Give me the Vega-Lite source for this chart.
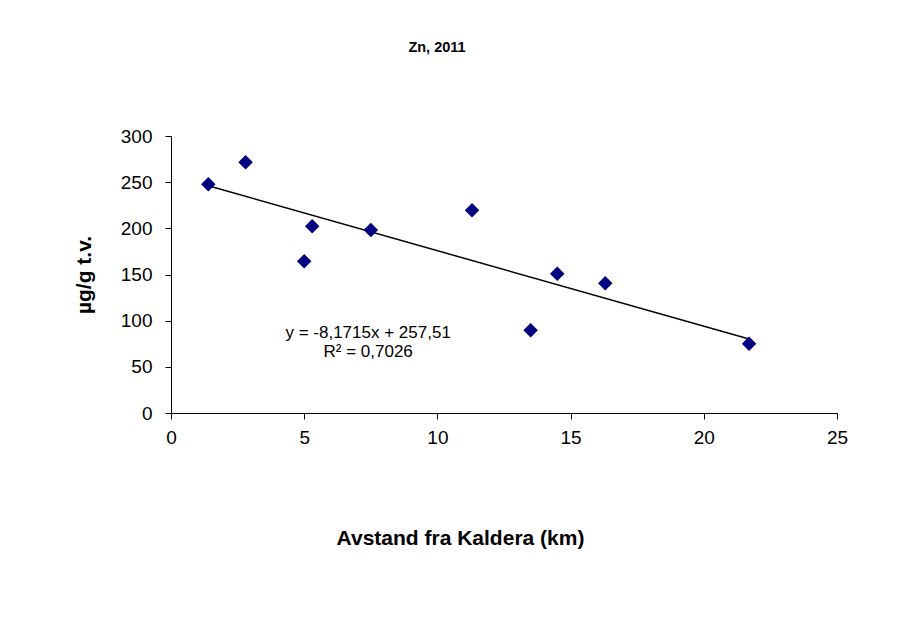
{
  "$schema": "https://vega.github.io/schema/vega-lite/v6.json",
  "width": 666,
  "height": 277,
  "autosize": {"type": "none"},
  "padding": {"left": 171, "top": 136, "right": 67, "bottom": 220},
  "background": "white",
  "config": {
    "view": {"stroke": null},
    "font": "Liberation Sans",
    "axis": {"grid": false, "domainColor": "black", "tickColor": "black", "tickSize": 6, "labelFont": "Liberation Sans", "labelFontSize": 19, "labelColor": "black", "titleFont": "Liberation Sans", "titleFontSize": 21, "titleFontWeight": "bold", "titleColor": "black", "labelFlush": false}
  },
  "title": {"text": "Zn, 2011", "font": "Liberation Sans", "fontSize": 14.5, "fontWeight": "bold", "color": "black", "anchor": "middle", "dx": -67, "offset": 72},
  "datasets": {
    "pts": [
      {"x": 1.4, "y": 247.7},
      {"x": 2.8, "y": 271.5},
      {"x": 5.0, "y": 164.3},
      {"x": 5.3, "y": 202.2},
      {"x": 7.5, "y": 198.2},
      {"x": 11.3, "y": 219.5},
      {"x": 13.5, "y": 89.6},
      {"x": 14.5, "y": 150.9},
      {"x": 16.3, "y": 140.5},
      {"x": 21.7, "y": 75.1}
    ],
    "trend": [
      {"x": 1.4, "y": 246.07},
      {"x": 21.7, "y": 80.18}
    ],
    "labels": [
      {"x": 7.4, "y": 81.5, "t": "y = -8,1715x + 257,51"},
      {"x": 7.4, "y": 61.0, "t": "R² = 0,7026"}
    ]
  },
  "layer": [
    {
      "data": {"name": "trend"},
      "mark": {"type": "line", "color": "black", "strokeWidth": 1.5},
      "encoding": {
        "x": {"field": "x", "type": "quantitative", "scale": {"domain": [0, 25], "nice": false}, "axis": {"values": [0, 5, 10, 15, 20, 25], "title": "Avstand fra Kaldera (km)", "titlePadding": 80, "labelPadding": 9, "titleX": 289}},
        "y": {"field": "y", "type": "quantitative", "scale": {"domain": [0, 300], "nice": false}, "axis": {"values": [0, 50, 100, 150, 200, 250, 300], "title": "µg/g t.v.", "titlePadding": 26, "labelPadding": 13}}
      }
    },
    {
      "data": {"name": "pts"},
      "mark": {"type": "point", "shape": "diamond", "filled": true, "color": "#000080", "size": 210, "opacity": 1},
      "encoding": {
        "x": {"field": "x", "type": "quantitative"},
        "y": {"field": "y", "type": "quantitative"}
      }
    },
    {
      "data": {"name": "labels"},
      "mark": {"type": "text", "font": "Liberation Sans", "fontSize": 17, "color": "black", "align": "center", "baseline": "alphabetic"},
      "encoding": {
        "x": {"field": "x", "type": "quantitative"},
        "y": {"field": "y", "type": "quantitative"},
        "text": {"field": "t"}
      }
    }
  ]
}
